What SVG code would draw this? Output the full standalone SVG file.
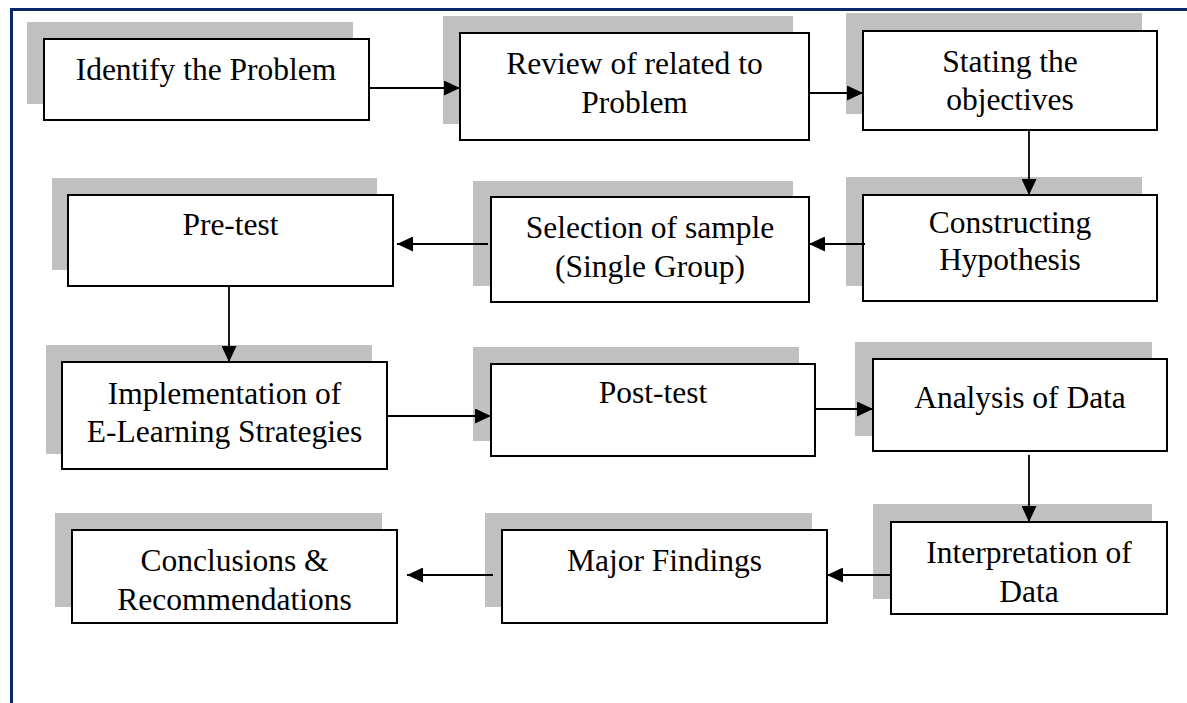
<svg xmlns="http://www.w3.org/2000/svg" width="1187" height="703" viewBox="0 0 1187 703">
<style>
.sh{fill:#c0c0c0}
.bx{fill:#fff;stroke:#000;stroke-width:2}
.t{font-family:"Liberation Serif","Times New Roman",serif;font-size:31.5px;fill:#000;text-anchor:middle}
.c{fill:none;stroke:#000;stroke-width:1.8}
.fr{fill:none;stroke:#0c2869;stroke-width:3}
</style>
<defs>
<marker id="ah" markerUnits="userSpaceOnUse" markerWidth="16" markerHeight="15" refX="16" refY="7.5" orient="auto">
<path d="M0,0 L16,7.5 L0,15 z" fill="#000"/>
</marker>
</defs>
<rect width="1187" height="703" fill="#fff"/>
<path class="fr" d="M11.5,703 V9.5 H1187"/>
<g id="n1"><rect class="sh" x="27" y="22" width="326" height="82"/><rect class="bx" x="44" y="39" width="325" height="81"/><text class="t" x="206" y="80">Identify the Problem</text></g>
<g id="n2"><rect class="sh" x="443" y="16" width="350" height="108"/><rect class="bx" x="460" y="33" width="349" height="107"/><text class="t" x="634.5" y="74">Review of related to</text><text class="t" x="634.5" y="113">Problem</text></g>
<g id="n3"><rect class="sh" x="846" y="13" width="296" height="101"/><rect class="bx" x="863" y="31" width="294" height="99"/><text class="t" x="1010" y="72">Stating the</text><text class="t" x="1010" y="110">objectives</text></g>
<g id="n4"><rect class="sh" x="846" y="177" width="296" height="109"/><rect class="bx" x="863" y="195" width="294" height="106"/><text class="t" x="1010" y="233">Constructing</text><text class="t" x="1010" y="270">Hypothesis</text></g>
<g id="n5"><rect class="sh" x="473" y="181" width="320" height="105"/><rect class="bx" x="491" y="197" width="318" height="105"/><text class="t" x="650" y="238">Selection of sample</text><text class="t" x="650" y="277">(Single Group)</text></g>
<g id="n6"><rect class="sh" x="52" y="178" width="325" height="92"/><rect class="bx" x="68" y="195" width="325" height="91"/><text class="t" x="230.5" y="235">Pre-test</text></g>
<g id="n7"><rect class="sh" x="46" y="345" width="326" height="109"/><rect class="bx" x="62" y="362" width="325" height="107"/><text class="t" x="224.5" y="404">Implementation of</text><text class="t" x="224.5" y="442">E-Learning Strategies</text></g>
<g id="n8"><rect class="sh" x="473" y="347" width="326" height="94"/><rect class="bx" x="491" y="364" width="324" height="92"/><text class="t" x="653" y="403">Post-test</text></g>
<g id="n9"><rect class="sh" x="855" y="342" width="297" height="94"/><rect class="bx" x="873" y="359" width="294" height="92"/><text class="t" x="1020" y="408">Analysis of Data</text></g>
<g id="n10"><rect class="sh" x="873" y="504" width="279" height="95"/><rect class="bx" x="891" y="522" width="276" height="92"/><text class="t" x="1029" y="563">Interpretation of</text><text class="t" x="1029" y="602">Data</text></g>
<g id="n11"><rect class="sh" x="485" y="513" width="327" height="94"/><rect class="bx" x="502" y="530" width="325" height="93"/><text class="t" x="664.5" y="571">Major Findings</text></g>
<g id="n12"><rect class="sh" x="55" y="513" width="327" height="94"/><rect class="bx" x="72" y="530" width="325" height="93"/><text class="t" x="234.5" y="571">Conclusions &amp;</text><text class="t" x="234.5" y="610">Recommendations</text></g>
<g id="connectors">
<path class="c" marker-end="url(#ah)" d="M369,88 H460"/>
<path class="c" marker-end="url(#ah)" d="M809,93 H863"/>
<path class="c" marker-end="url(#ah)" d="M1029,130 V195"/>
<path class="c" marker-end="url(#ah)" d="M865,244 H809"/>
<path class="c" marker-end="url(#ah)" d="M488,244 H397"/>
<path class="c" marker-end="url(#ah)" d="M229,286 V362"/>
<path class="c" marker-end="url(#ah)" d="M387,416 H491"/>
<path class="c" marker-end="url(#ah)" d="M815,409 H873"/>
<path class="c" marker-end="url(#ah)" d="M1029,455 V522"/>
<path class="c" marker-end="url(#ah)" d="M891,575 H827"/>
<path class="c" marker-end="url(#ah)" d="M493,575 H407"/>
</g>
</svg>
